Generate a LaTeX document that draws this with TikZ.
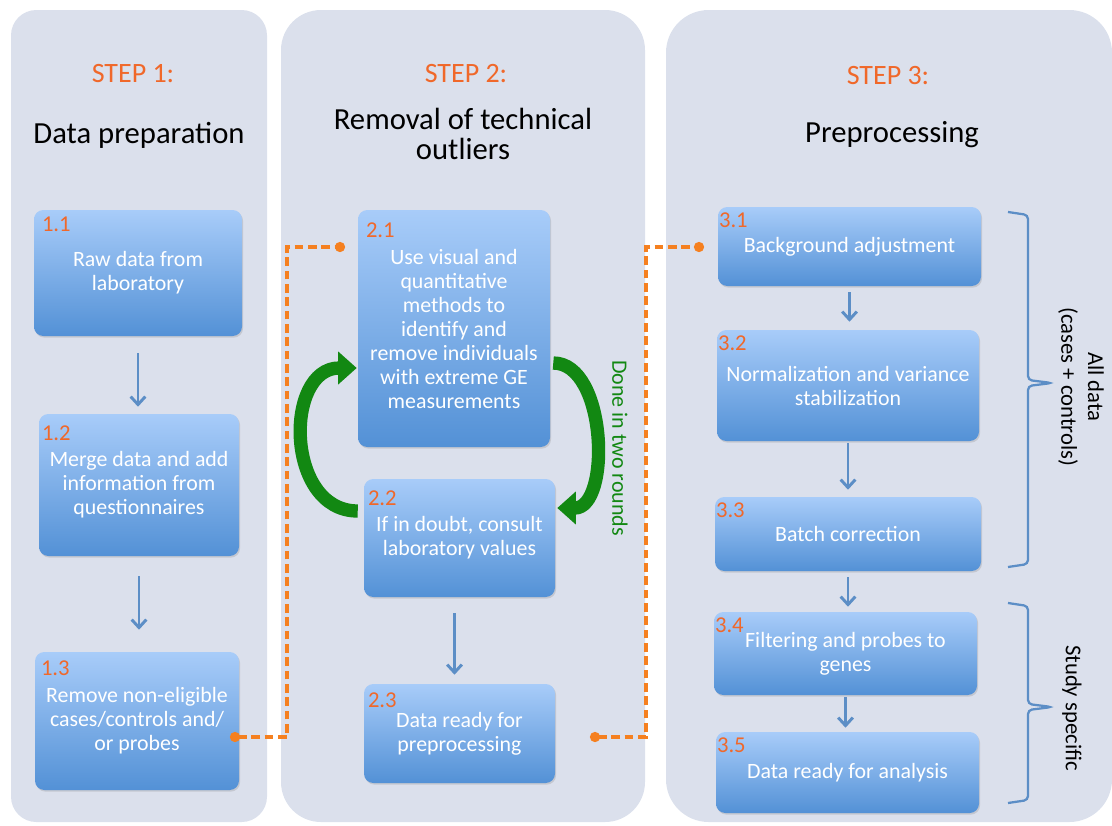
\documentclass[tikz,border=0pt]{standalone}
\usepackage{fontspec}
\setmainfont{Carlito}
\usepackage{tikz}
\usetikzlibrary{arrows.meta,shadows}
\usepackage{xcolor}
\definecolor{panelgray}{RGB}{219,224,236}
\definecolor{boxtop}{RGB}{168,204,249}
\definecolor{boxbottom}{RGB}{83,145,214}
\definecolor{steporange}{RGB}{240,104,42}
\definecolor{linkorange}{RGB}{245,128,32}
\definecolor{arrowblue}{RGB}{92,142,198}
\definecolor{loopgreen}{RGB}{18,136,18}

\begin{document}
\begin{tikzpicture}[x=0.75pt,y=-0.75pt]
  \tikzset{stepbox/.style={rectangle,rounded corners=7pt,top color=boxtop,bottom color=boxbottom,draw=none,text=white,align=center,inner sep=2pt,font=\fontsize{16.4}{18}\selectfont,drop shadow={opacity=0.25,shadow xshift=0.8pt,shadow yshift=-1.2pt}}}
  \tikzset{numlabel/.style={anchor=north west,inner sep=0pt,text=steporange,font=\fontsize{17}{17}\selectfont}}
  \tikzset{steptitle/.style={text=steporange,font=\fontsize{21}{22}\selectfont}}
  \tikzset{phasetitle/.style={text=black,align=center,font=\fontsize{23}{22.5}\selectfont}}
  \tikzset{flowarrow/.style={draw=arrowblue,line width=2.2pt,-{Straight Barb[length=6pt,width=11pt]}}}
  \tikzset{linkdash/.style={draw=linkorange,line width=3pt,dash pattern=on 6.5pt off 3.5pt,{Circle[length=7.5pt]}-{Circle[length=7.5pt]}}}
  \tikzset{loopedge/.style={draw=loopgreen,line width=10pt,-{Triangle[length=14pt,width=24pt]}}}
  \tikzset{bracket/.style={draw=arrowblue,line width=1.7pt,rounded corners=3pt}}
  \tikzset{bracenote/.style={rotate=-90,align=center,text=black,font=\fontsize{17}{20}\selectfont}}
  \useasboundingbox (0,0) rectangle (1112,825);
  % panels
  \fill[panelgray,rounded corners=19pt] (11,10) rectangle (267,822);
  \fill[panelgray,rounded corners=30pt] (281,10) rectangle (645,822);
  \fill[panelgray,rounded corners=32pt] (666,10) rectangle (1112,822);
  % titles
  \node[steptitle] (s1) at (133,74) {STEP 1:};
  \node[phasetitle] (t1) at (139,135) {Data preparation};
  \node[steptitle] (s2) at (466,74) {STEP 2:};
  \node[phasetitle] (t2) at (463,134) {Removal of technical\\outliers};
  \node[steptitle] (s3) at (888,76) {STEP 3:};
  \node[phasetitle] (t3) at (892,135) {Preprocessing};
  % step 1
  \node[stepbox,minimum width=156pt,minimum height=94.5pt] (b11) at (138,273) {Raw data from\\laboratory};
  \node[stepbox,minimum width=150pt,minimum height=106.5pt] (b12) at (139,485) {Merge data and add\\information from\\questionnaires};
  \node[stepbox,minimum width=153pt,minimum height=103.5pt] (b13) at (137,721) {Remove non-eligible\\cases/controls and/\\or probes};
  % step 2
  \node[stepbox,minimum width=144pt,minimum height=177.75pt] (b21) at (454,328.5) {Use visual and\\quantitative\\methods to\\identify and\\remove individuals\\with extreme GE\\measurements};
  \node[stepbox,minimum width=143.25pt,minimum height=88.5pt] (b22) at (459.5,538) {If in doubt, consult\\laboratory values};
  \node[stepbox,minimum width=143.25pt,minimum height=74.25pt] (b23) at (459.5,733.5) {Data ready for\\preprocessing};
  % step 3
  \node[stepbox,minimum width=197.25pt,minimum height=59.25pt] (b31) at (849.5,246.5) {Background adjustment};
  \node[stepbox,minimum width=196.5pt,minimum height=83.25pt] (b32) at (848,385.5) {Normalization and variance\\stabilization};
  \node[stepbox,minimum width=199.5pt,minimum height=55.5pt] (b33) at (848,534) {Batch correction};
  \node[stepbox,minimum width=197.25pt,minimum height=62.25pt] (b34) at (845.5,653.5) {Filtering and probes to\\genes};
  \node[stepbox,minimum width=197.25pt,minimum height=60.75pt] (b35) at (847.5,772.5) {Data ready for analysis};
  % numbers
  \node[numlabel] (n11) at ([shift={(8,7)}]b11.north west) {1.1};
  \node[numlabel] (n12) at ([shift={(3,12)}]b12.north west) {1.2};
  \node[numlabel] (n13) at ([shift={(6,9)}]b13.north west) {1.3};
  \node[numlabel] (n21) at ([shift={(8,13)}]b21.north west) {2.1};
  \node[numlabel] (n22) at ([shift={(4,12)}]b22.north west) {2.2};
  \node[numlabel] (n23) at ([shift={(4,9)}]b23.north west) {2.3};
  \node[numlabel] (n31) at ([shift={(1,6)}]b31.north west) {3.1};
  \node[numlabel] (n32) at ([shift={(1,6)}]b32.north west) {3.2};
  \node[numlabel] (n33) at ([shift={(1,6)}]b33.north west) {3.3};
  \node[numlabel] (n34) at ([shift={(1,6)}]b34.north west) {3.4};
  \node[numlabel] (n35) at ([shift={(1,6)}]b35.north west) {3.5};
  % arrows
  \draw[flowarrow,shorten <=12.75pt,shorten >=5.25pt] (b11.south) -- (b11.south |- b12.north);
  \draw[flowarrow,shorten <=15pt,shorten >=16.5pt] (b12.south) -- (b12.south |- b13.north);
  \draw[flowarrow,shorten <=12pt,shorten >=6.75pt] ([shift={(-5,0)}]b22.south) -- ([shift={(-5,0)}]b22.south |- b23.north);
  \draw[flowarrow,shorten <=4.5pt,shorten >=6pt] (b31.south) -- (b31.south |- b32.north);
  \draw[flowarrow,shorten <=1.5pt,shorten >=5.25pt] (b32.south) -- (b32.south |- b33.north);
  \draw[flowarrow,shorten <=4.5pt,shorten >=3.75pt] (b33.south) -- (b33.south |- b34.north);
  \draw[flowarrow,shorten <=1.5pt,shorten >=3pt] (b34.south) -- (b34.south |- b35.north);
  % two rounds
  \draw[loopedge] ([shift={(-6,-27)}]b22.west) to[out=180,in=180,looseness=1.3] ([shift={(-1,39.5)}]b21.west);
  \draw[loopedge] ([shift={(3,34.5)}]b21.east) to[out=0,in=0,looseness=0.95] ([shift={(2,-30)}]b22.east);
  \node[rotate=-90,text=loopgreen,font=\fontsize{16.5}{18}\selectfont] (rounds) at (620,448) {Done in two rounds};
  % dashed links
  \coordinate (p13) at (230,737);
  \coordinate (p21) at (345,247);
  \coordinate (p23) at (590,737);
  \coordinate (p31) at (704,247);
  \draw[linkdash] (p13) -- ++(57,0) |- (p21);
  \draw[linkdash] (p23) -- ++(56,0) |- (p31);
  % braces
  \draw[bracket] (1008,212) -- (1028,215) -- (1028,380) -- (1052,383) -- (1028,386) -- (1028,564) -- (1008,567);
  \draw[bracket] (1008,603) -- (1028,606) -- (1028,704) -- (1052,707) -- (1028,710) -- (1028,800) -- (1008,803);
  \node[bracenote] (alldata) at (1081,387) {All data\\(cases + controls)};
  \node[bracenote] (study) at (1072,708) {Study specific};
\end{tikzpicture}
\end{document}
